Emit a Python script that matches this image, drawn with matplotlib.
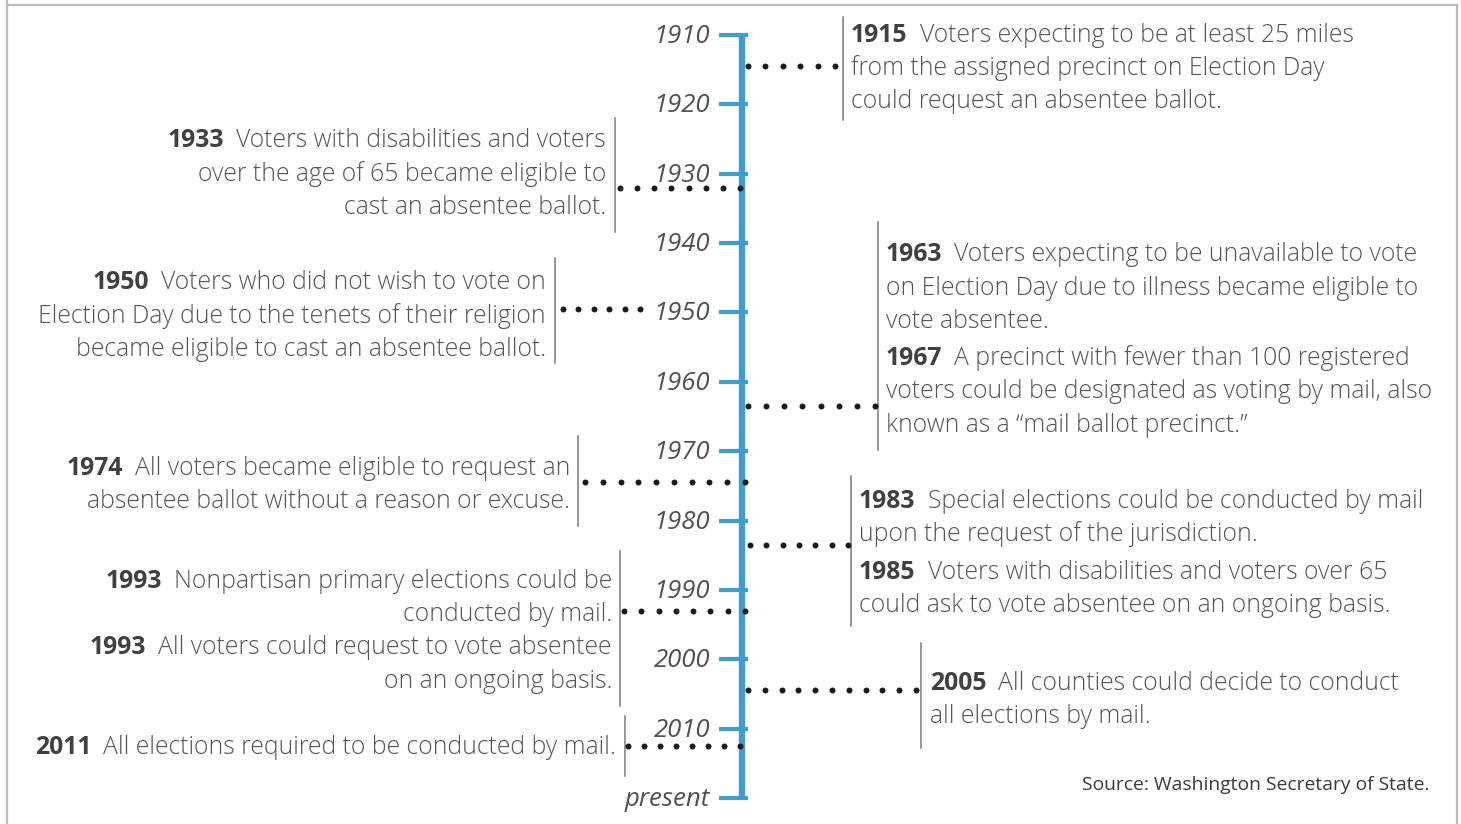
#Washington vote-by-mail timeline
import matplotlib
matplotlib.use('Agg')
import matplotlib.pyplot as plt
import numpy as np
from matplotlib.lines import Line2D

plt.rcParams['font.family'] = ['Open Sans', 'DejaVu Sans']

#data
tick_years = [1910, 1920, 1930, 1940, 1950, 1960, 1970, 1980, 1990, 2000, 2010, 2020]
tick_labels = ['1910', '1920', '1930', '1940', '1950', '1960', '1970', '1980', '1990', '2000', '2010', 'present']

# year the dotted connector points to, one per text block
anchor_years = [1914.5, 1932, 1949.5, 1963.5, 1974.5, 1983.5, 1993, 2004.5, 2012.5]

# each block: list of events, each event: (year, lines)
block_events = [
    [('1915', ['Voters expecting to be at least 25 miles',
               'from the assigned precinct on Election Day',
               'could request an absentee ballot.'])],
    [('1933', ['Voters with disabilities and voters',
               'over the age of 65 became eligible to',
               'cast an absentee ballot.'])],
    [('1950', ['Voters who did not wish to vote on',
               'Election Day due to the tenets of their religion',
               'became eligible to cast an absentee ballot.'])],
    [('1963', ['Voters expecting to be unavailable to vote',
               'on Election Day due to illness became eligible to',
               'vote absentee.']),
     ('1967', ['A precinct with fewer than 100 registered',
               'voters could be designated as voting by mail, also',
               'known as a \u201cmail ballot precinct.\u201d'])],
    [('1974', ['All voters became eligible to request an',
               'absentee ballot without a reason or excuse.'])],
    [('1983', ['Special elections could be conducted by mail',
               'upon the request of the jurisdiction.']),
     ('1985', ['Voters with disabilities and voters over 65',
               'could ask to vote absentee on an ongoing basis.'])],
    [('1993', ['Nonpartisan primary elections could be',
               'conducted by mail.']),
     ('1993', ['All voters could request to vote absentee',
               'on an ongoing basis.'])],
    [('2005', ['All counties could decide to conduct',
               'all elections by mail.'])],
    [('2011', ['All elections required to be conducted by mail.'])],
]

source_text = 'Source: Washington Secretary of State.'

#layout (pixels): side, dots x0, dots x1, bar x, bar top, bar bottom, text x, line centres
layout = [
    ('L', 748, 835, 843, 17, 120, 851, [33, 66, 99]),
    ('R', 620, 740, 615, 118, 232, 606, [138, 172, 205]),
    ('R', 563, 640, 555, 258, 363, 546, [280, 314, 347]),
    ('L', 748, 875, 878, 222, 450, 886, [252, 286, 319, 356, 389, 423]),
    ('R', 585, 745, 578, 436, 526, 570, [466, 499]),
    ('L', 750, 848, 851, 476, 626, 859, [499, 532, 570, 603]),
    ('R', 624, 745, 620, 551, 706, 612, [579, 612, 645, 679]),
    ('L', 748, 916, 921, 643, 748, 930, [681, 714]),
    ('R', 628, 740, 625, 716, 776, 616, [745]),
]

W, H = 1461, 824
Y0, PX_PER_YEAR = 35, (798 - 35) / 110.0


def yr(p):
    return 1910 + (p - Y0) / PX_PER_YEAR


def draw_timeline():
    fig = plt.figure(figsize=(W / 100, H / 100), dpi=100)
    ax = fig.add_axes([0, 0, 1, 1])
    ax.set_xlim(0, W)
    ax.set_ylim(yr(H), yr(0))
    ax.axis('off')

    blue = '#3d9fcf'
    body = '#555555'
    bold = '#404040'
    fs = 17.8

    # spine + ticks
    ax.plot([742, 742], [tick_years[0], tick_years[-1]], color=blue, lw=4.6,
            solid_capstyle='butt', zorder=2)
    for y, lab in zip(tick_years, tick_labels):
        ax.plot([719, 748], [y, y], color=blue, lw=3.0, solid_capstyle='butt', zorder=2)
        ax.text(710, yr((y - 1910) * PX_PER_YEAR + Y0 + 8), lab, ha='right', va='baseline',
                fontsize=18.5, fontstyle='italic', color='#505050')

    fig.canvas.draw()
    r = fig.canvas.get_renderer()
    inv = ax.transData.inverted()

    for anchor, events, lay in zip(anchor_years, block_events, layout):
        side, x0, x1, bx, bt, bb, tx, centres = lay
        n = int(round((x1 - x0) / 17.0)) + 1
        xs = np.linspace(x0, x1, n)
        ax.plot(xs, [anchor] * n, 'o', color='#1a1a1a', ms=4.3, mew=0, zorder=3)
        ax.plot([bx, bx], [yr(bt), yr(bb)], color='#7a7a7a', lw=1.1, zorder=1)

        i = 0
        for year, lines in events:
            for k, line in enumerate(lines):
                yb = yr(centres[i] + 9)
                i += 1
                if k > 0:
                    ax.text(tx, yb, line, ha='left' if side == 'L' else 'right',
                            va='baseline', fontsize=fs, color=body, fontweight='light')
                    continue
                if side == 'L':
                    t = ax.text(tx, yb, year, ha='left', va='baseline', fontsize=fs,
                                color=bold, fontweight='bold')
                    bb_ = t.get_window_extent(r)
                    xr = inv.transform((bb_.x1, 0))[0]
                    ax.text(xr + 12, yb, line, ha='left', va='baseline', fontsize=fs,
                            color=body, fontweight='light')
                else:
                    t = ax.text(tx, yb, line, ha='right', va='baseline', fontsize=fs,
                                color=body, fontweight='light')
                    bb_ = t.get_window_extent(r)
                    xl = inv.transform((bb_.x0, 0))[0]
                    ax.text(xl - 12, yb, year, ha='right', va='baseline', fontsize=fs,
                            color=bold, fontweight='bold')

    ax.text(1430, yr(790), source_text, ha='right', va='baseline', fontsize=13.9, color='#3a3a3a')

    # frame
    for xs, ys in [([7, 7], [0, H]), ([7, 1457], [5, 5]), ([1457, 1457], [5, H])]:
        fig.add_artist(Line2D([x / W for x in xs], [1 - y / H for y in ys],
                              color='#bdbdbd', lw=1.6))

    fig.savefig('out.png', dpi=100)


#main
if __name__ == '__main__':
    draw_timeline()
